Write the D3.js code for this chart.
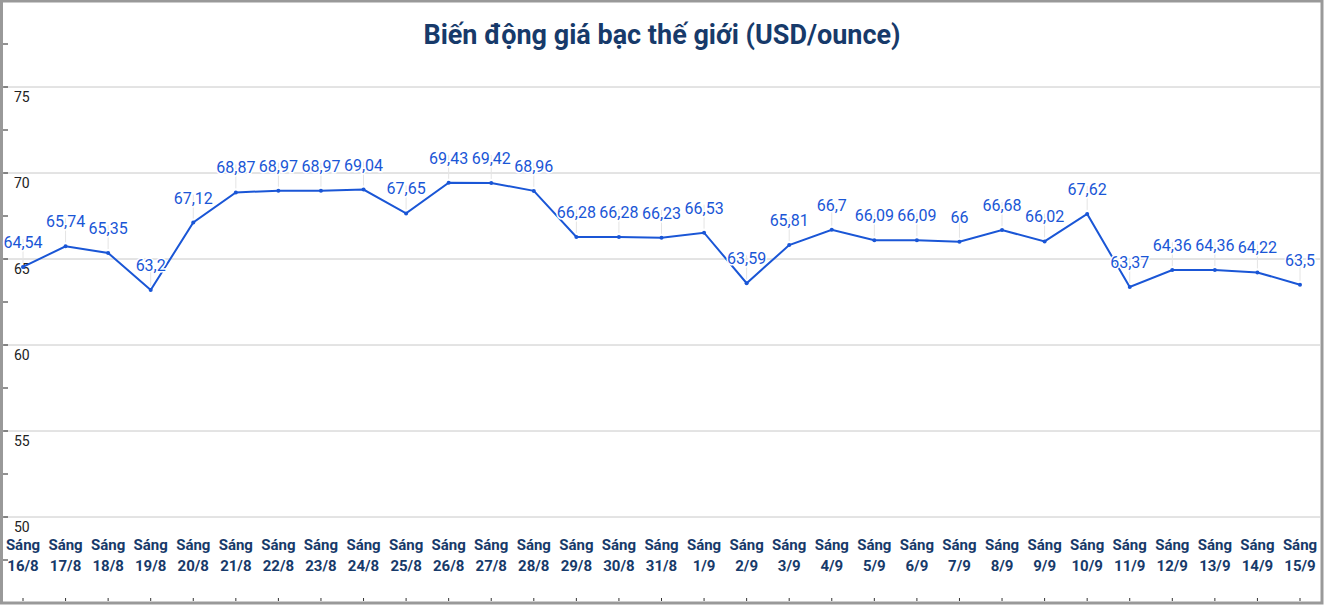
<!DOCTYPE html>
<html><head><meta charset="utf-8">
<script src="https://cdn.jsdelivr.net/npm/d3@7"></script>
<style>body{margin:0;background:#fff}svg{display:block}</style>
</head><body><svg id="c" width="1324" height="605"></svg>
<script>
const dates=["16/8","17/8","18/8","19/8","20/8","21/8","22/8","23/8","24/8","25/8","26/8","27/8","28/8","29/8","30/8","31/8","1/9","2/9","3/9","4/9","5/9","6/9","7/9","8/9","9/9","10/9","11/9","12/9","13/9","14/9","15/9"];
const prices=[64.54,65.74,65.35,63.2,67.12,68.87,68.97,68.97,69.04,67.65,69.43,69.42,68.96,66.28,66.28,66.23,66.53,63.59,65.81,66.7,66.09,66.09,66,66.68,66.02,67.62,63.37,64.36,64.36,64.22,63.5];
const yTicks=[50,55,60,65,70,75];
const svg=d3.select("#c");
const W=1324,H=605;
const x=d3.scalePoint().domain(dates).range([23,1300]);
const y=d3.scaleLinear().domain([50,75]).range([517,87]);
svg.append("rect").attr("x",1.5).attr("y",1).attr("width",W-3.5).attr("height",H-3).attr("fill","none").attr("stroke","#999").attr("stroke-width",3);
svg.append("g").selectAll("line").data(yTicks).join("line")
 .attr("x1",4).attr("x2",W-4).attr("y1",d=>y(d)).attr("y2",d=>y(d)).attr("stroke","#c8c8c8");
const minor=d3.range(-2,15).map(i=>50+i*2.5).filter(v=>y(v)>3&&y(v)<600);
svg.append("g").selectAll("line").data(minor).join("line")
 .attr("x1",3).attr("x2",8).attr("y1",d=>y(d)).attr("y2",d=>y(d)).attr("stroke","#222");
svg.append("g").selectAll("text").data(yTicks).join("text")
 .attr("x",14).attr("y",d=>y(d)+15).attr("font-family","Roboto, sans-serif").attr("font-size",14).attr("fill","#222").text(d=>d);
svg.append("text").attr("x",662).attr("y",44).attr("text-anchor","middle").attr("font-family","Roboto, sans-serif").attr("font-weight","bold").attr("font-size",27).attr("fill","#173a6a").text("Biến động giá bạc thế giới (USD/ounce)");
svg.append("g").selectAll("line").data(prices).join("line")
 .attr("x1",(d,i)=>x(dates[i])).attr("x2",(d,i)=>x(dates[i])).attr("y1",d=>y(d)-28).attr("y2",d=>y(d)-4).attr("stroke","#e4e4e4");
const line=d3.line().x((d,i)=>x(dates[i])).y(d=>y(d));
svg.append("path").datum(prices).attr("d",line).attr("fill","none").attr("stroke","#1a56d6").attr("stroke-width",2);
svg.append("g").selectAll("circle").data(prices).join("circle").attr("cx",(d,i)=>x(dates[i])).attr("cy",d=>y(d)).attr("r",2).attr("fill","#1a56d6");
svg.append("g").selectAll("text").data(prices).join("text")
 .attr("x",(d,i)=>x(dates[i])).attr("y",d=>y(d)-19).attr("text-anchor","middle")
 .attr("font-family","Roboto, sans-serif").attr("font-size",16).attr("fill","#1a56d6")
 .attr("stroke","#fff").attr("stroke-width",3).attr("paint-order","stroke")
 .text(d=>String(d).replace(".",","));
const g=svg.append("g").attr("font-family","Roboto, Arial, sans-serif").attr("font-weight","bold").attr("font-size",15).attr("fill","#173a6a").attr("text-anchor","middle");
dates.forEach(d=>{
 const t=g.append("text").attr("x",x(d)).attr("y",550);
 t.append("tspan").attr("x",x(d)).text("Sáng");
 t.append("tspan").attr("x",x(d)).attr("dy",21).text(d);
 svg.append("line").attr("x1",x(d)).attr("x2",x(d)).attr("y1",598).attr("y2",601).attr("stroke","#333");
});
</script></body></html>
